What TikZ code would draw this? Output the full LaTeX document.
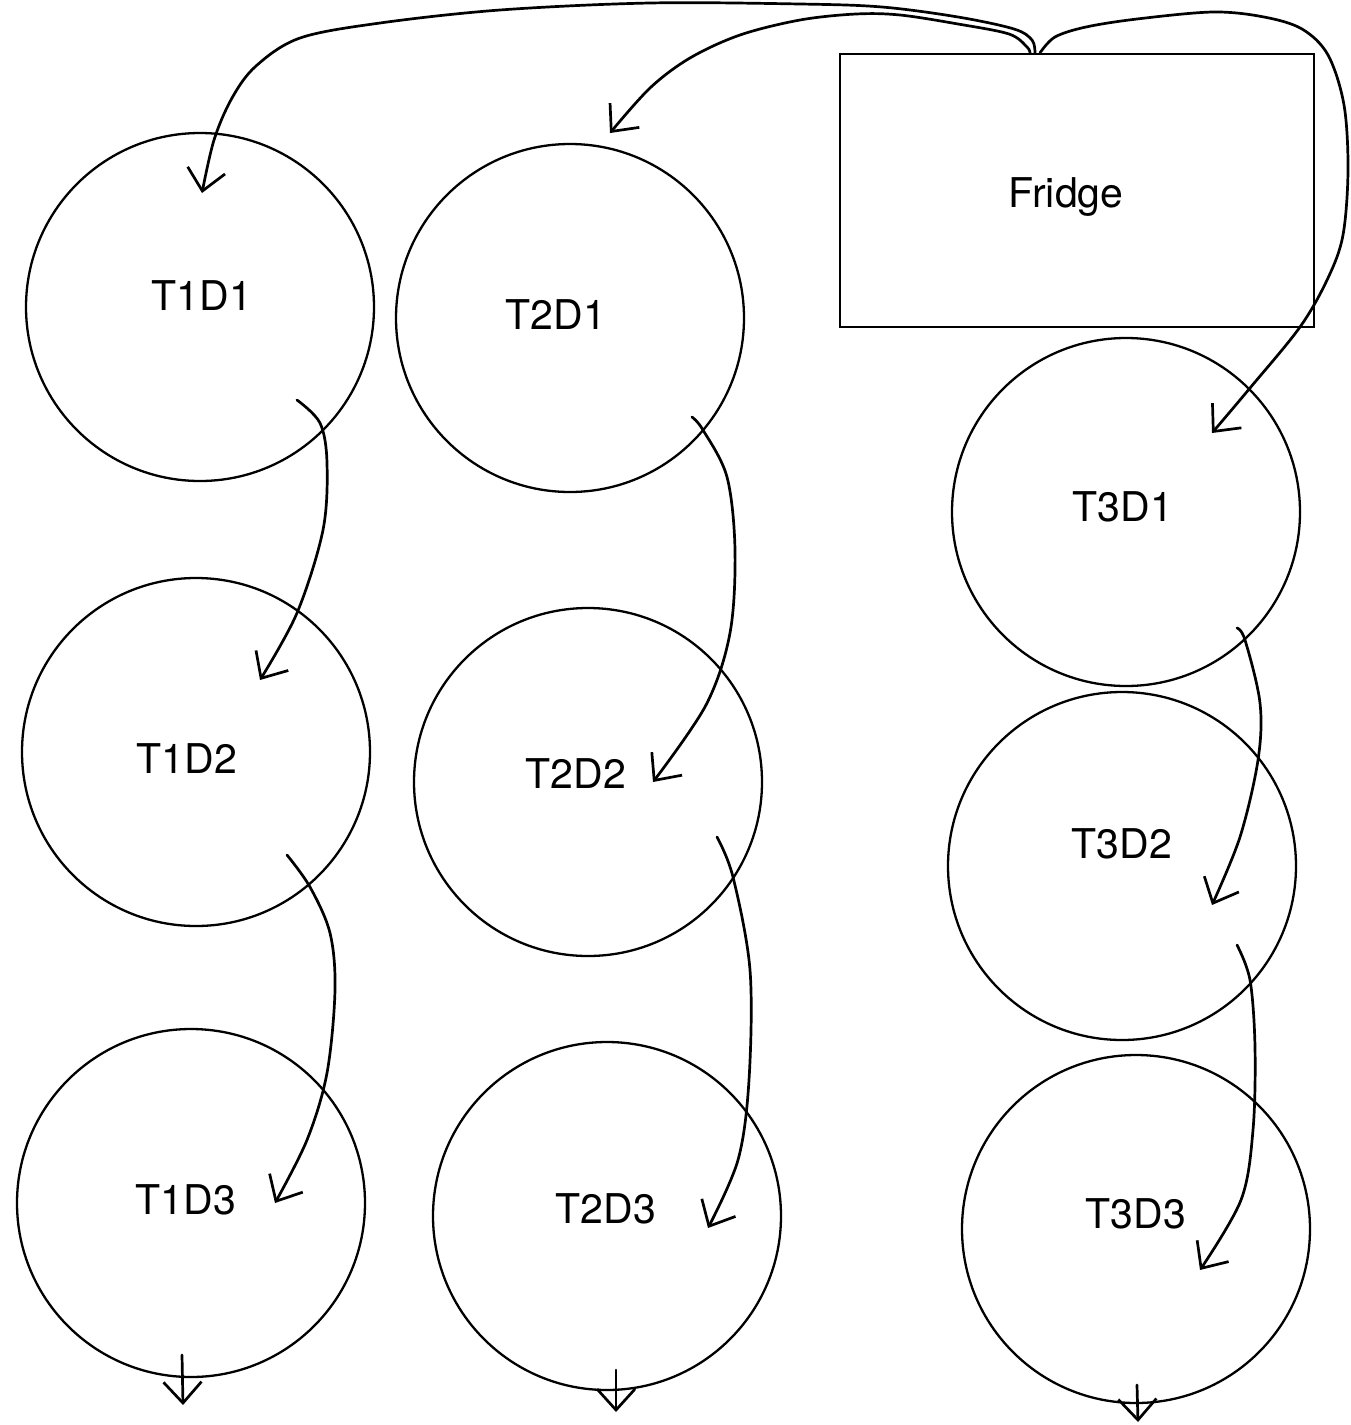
\documentclass[tikz,border=0pt]{standalone}
\usepackage{fontspec}
\setmainfont{TeX Gyre Heros}
\usetikzlibrary{arrows.meta}
\begin{document}
\begin{tikzpicture}[x=1pt,y=-1pt,
  stage/.style={draw, circle, line width=2.3pt, minimum size=348pt, inner sep=0pt},
  box/.style={draw, rectangle, line width=2.3pt, minimum width=474pt, minimum height=273pt, inner sep=0pt},
  lbl/.style={font=\fontsize{41}{49}\selectfont, inner sep=0pt},
  flow/.style={line width=2.7pt, line cap=round, line join=round,
    -{Straight Barb[length=21pt,width=38pt,line width=2.7pt]}},
  hand/.style={smooth, tension=0.55}]
\useasboundingbox (0,0) rectangle (1350,1425);

% the fridge
\node[box, label={[lbl, xshift=-11pt, yshift=-2pt, text depth=0pt]center:Fridge}] (fr) at (1077,190.5) {};

% first column
\node[stage, label={[lbl, xshift=2pt,  yshift=11pt]center:T1D1}] (t11) at (200,307) {};
\node[stage, label={[lbl, xshift=-9pt, yshift=-7pt]center:T1D2}] (t12) at (196,752) {};
\node[stage, label={[lbl, xshift=-5pt, yshift=3pt]center:T1D3}]  (t13) at (191,1203) {};

% second column
\node[stage, label={[lbl, xshift=-14pt, yshift=3pt]center:T2D1}] (t21) at (570,318) {};
\node[stage, label={[lbl, xshift=-12pt, yshift=8pt]center:T2D2}] (t22) at (588,782) {};
\node[stage, label={[lbl, xshift=-1pt,  yshift=7pt]center:T2D3}] (t23) at (607,1216) {};

% third column
\node[stage, label={[lbl, xshift=-3pt, yshift=5pt]center:T3D1}]  (t31) at (1126,512) {};
\node[stage, label={[lbl, xshift=0pt,  yshift=22pt]center:T3D2}] (t32) at (1122,866) {};
\node[stage, label={[lbl, xshift=0pt,  yshift=15pt]center:T3D3}] (t33) at (1136,1229) {};

% loose ends below the last row
\coordinate (o1) at (183,1405);
\coordinate (o2) at (616,1412);
\coordinate (o3) at (1138,1422);

% fridge to the first stage of each column
\draw[flow] plot[hand] coordinates {([xshift=-42pt]fr.north) (1032,40) (1014,29) (958,17) (882,7) (800,4) (650,3) (500,10) (380,23) (300,38) (256,66) (232,98) (214,140) ([shift={(2,-114)}]t11.center)};
\draw[flow] plot[hand] coordinates {([xshift=-47pt]fr.north) (1027,47) (1009,34) (958,24) (900,15) (856,14) (800,20) (740,35) (690,58) (650,88) ([shift={(40,-185)}]t21.center)};
\draw[flow] plot[hand] coordinates {([xshift=-37pt]fr.north) (1055,37) (1086,27) (1137,19) (1213,12) (1264,17) (1302,29) (1328,55) (1344,105) (1348,170) (1343,235) (1328,278) (1300,327) (1250,388) ([shift={(86,-79)}]t31.center)};

% first column
\draw[flow] plot[hand] coordinates {([shift={(97,93)}]t11.center) (320,423) (327,463) (323,530) (297,613) ([shift={(64,-72)}]t12.center)};
\draw[flow] plot[hand] coordinates {([shift={(91,103)}]t12.center) (310,887) (330,933) (335,990) (327,1073) (307,1140) ([shift={(84,0)}]t13.center)};

% second column
\draw[flow] plot[hand] coordinates {([shift={(122,99)}]t21.center) (703,430) (727,477) (735,550) (730,633) (706,705) ([shift={(65,0)}]t22.center)};
\draw[flow] plot[hand] coordinates {([shift={(129,55)}]t22.center) (733,877) (750,970) (749,1080) (738,1160) ([shift={(101,12)}]t23.center)};

% third column
\draw[flow] plot[hand] coordinates {([shift={(111,116)}]t31.center) (1245,640) (1260,703) (1258,760) (1240,837) ([shift={(90,39)}]t32.center)};
\draw[flow] plot[hand] coordinates {([shift={(115,79)}]t32.center) (1250,980) (1255,1047) (1253,1130) (1241,1200) ([shift={(64,41)}]t33.center)};

% short exits
\draw[flow] ([shift={(-9,152)}]t13.center) -- (o1);
\draw[flow] ([shift={(9,154)}]t23.center) -- (o2);
\draw[flow] ([shift={(1,156)}]t33.center) -- (o3);
\end{tikzpicture}
\end{document}
